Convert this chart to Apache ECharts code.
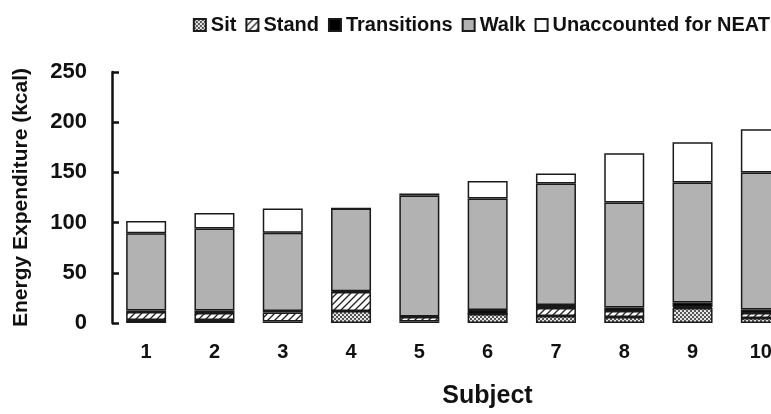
<!DOCTYPE html>
<html>
<head>
<meta charset="utf-8">
<script src="https://cdn.jsdelivr.net/npm/echarts@6/dist/echarts.min.js"></script>
<style>
html,body{margin:0;padding:0;background:#fff;overflow:hidden;}
#c{width:800px;height:414px;}
</style>
</head>
<body>
<div id="c"></div>
<script>
var subjects = ['1','2','3','4','5','6','7','8','9','10'];
var sit = [3, 3, 1.5, 12, 1.5, 9, 7, 6, 15, 5];
var stand = [8, 7, 9, 19, 4.5, 0, 8, 6, 1, 5];
var transitions = [1.5, 2.5, 1.5, 0.5, 0.5, 4, 3, 3.5, 4.5, 3.5];
var walk = [77, 81.5, 78, 82.5, 120.5, 111, 121, 104.5, 119.5, 136.5];
var unaccounted = [12, 15.5, 24, 0, 2, 17.5, 10, 49, 40, 43];
var yTicks = [0, 50, 100, 150, 200, 250];

function sitPattern(){
  var c = document.createElement('canvas'); c.width = 4; c.height = 4;
  var g = c.getContext('2d');
  g.fillStyle = '#e6e6e6'; g.fillRect(0,0,4,4);
  g.fillStyle = '#555'; g.fillRect(0,0,2,2); g.fillRect(2,2,2,2);
  return c;
}
function standPattern(){
  var c = document.createElement('canvas'); c.width = 7; c.height = 7;
  var g = c.getContext('2d');
  g.fillStyle = '#fff'; g.fillRect(0,0,7,7);
  g.strokeStyle = '#222'; g.lineWidth = 1.3;
  g.beginPath();
  g.moveTo(0,7); g.lineTo(7,0);
  g.moveTo(-1,1); g.lineTo(1,-1);
  g.moveTo(6,8); g.lineTo(8,6);
  g.stroke();
  return c;
}

var chart = echarts.init(document.getElementById('c'), null, {renderer:'canvas'});
var font = '"Liberation Sans", Arial, Helvetica, sans-serif';
var border = {borderColor:'#1a1a1a', borderWidth:1.5};

function ser(name, data, color){
  return {
    name: name, type:'bar', stack:'total', data: data, barWidth: 40,
    itemStyle: Object.assign({color: color}, border),
    emphasis: {disabled: true}
  };
}

chart.setOption({
  animation: false,
  textStyle: {fontFamily: font},
  legend: {
    right: 25, top: 10, itemWidth: 12, itemHeight: 12, itemGap: 9, icon: 'rect',
    textStyle: {fontSize: 20, fontWeight: 'bold', color:'#111', fontFamily: font},
    data: ['Sit','Stand','Transitions','Walk','Unaccounted for NEAT']
  },
  grid: {left: 112, top: 72, right: 5, bottom: 84},
  xAxis: {
    type: 'category', data: subjects,
    axisLine: {show: false}, axisTick: {show: false},
    axisLabel: {fontSize: 20, fontWeight: 'bold', color: '#111', margin: 19, fontFamily: font},
    name: 'Subject', nameLocation: 'middle', nameGap: 61,
    nameTextStyle: {fontSize: 25, fontWeight: 'bold', color: '#111', padding: [0,0,0,68], fontFamily: font}
  },
  yAxis: {
    type: 'value', min: 0, max: 250, interval: 50,
    axisLine: {show: true, lineStyle: {color: '#111', width: 2.5}},
    axisTick: {show: true, inside: true, length: 7, lineStyle: {color:'#111', width: 2.5}},
    splitLine: {show: false},
    axisLabel: {fontSize: 22, fontWeight: 'bold', color: '#111', margin: 25, fontFamily: font,
      formatter: function(v){ return yTicks.indexOf(v) >= 0 ? String(v) : ''; }},
    name: 'Energy Expenditure (kcal)', nameLocation: 'middle', nameGap: 80,
    nameTextStyle: {fontSize: 21, fontWeight: 'bold', color: '#111', fontFamily: font}
  },
  series: [
    ser('Sit', sit, {image: sitPattern(), repeat: 'repeat'}),
    ser('Stand', stand, {image: standPattern(), repeat: 'repeat'}),
    ser('Transitions', transitions, '#000'),
    ser('Walk', walk, '#b2b2b2'),
    ser('Unaccounted for NEAT', unaccounted, '#ffffff')
  ]
});
</script>
</body>
</html>
